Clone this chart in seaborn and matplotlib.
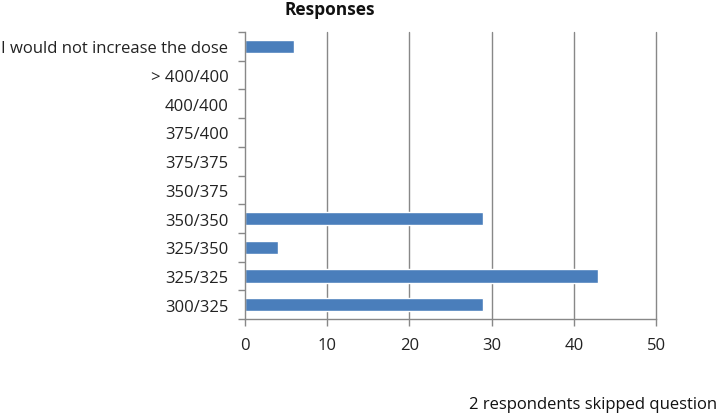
import matplotlib
matplotlib.use("Agg")
import matplotlib.pyplot as plt
import seaborn as sns
import pandas as pd

categories = ["I would not increase the dose", "> 400/400", "400/400", "375/400",
              "375/375", "350/375", "350/350", "325/350", "325/325", "300/325"]
values = [6, 0, 0, 0, 0, 0, 29, 4, 43, 29]
xticks = [0, 10, 20, 30, 40, 50]

sns.set_style("white")
plt.rcParams['font.family'] = ['Open Sans', 'DejaVu Sans']

df = pd.DataFrame({"category": categories, "value": values})

fig = plt.figure(figsize=(7.19, 4.14), dpi=100)
ax = fig.add_axes([245/719, 1 - 320/414, (656-245)/719, (320-33)/414])

sns.barplot(data=df, y="category", x="value", order=categories, color="#4a7ebb",
            saturation=1, width=0.47, ax=ax, orient="h")

ax.set_xlim(0, 50)
ax.set_ylim(len(categories) - 0.5, -0.5)
ax.set_xticks(xticks)
ax.set_xticklabels([str(t) for t in xticks], fontsize=12, color="#222222")
ax.set_xlabel("")
ax.set_ylabel("")
ax.tick_params(axis="y", which="major", left=False, labelsize=12, labelcolor="#222222", length=0, pad=12)
ax.tick_params(axis="x", bottom=True, length=5, color="#888888", width=1, direction="out", pad=8)
# minor ticks between categories on y axis
ax.set_yticks([i + 0.5 for i in range(-1, len(categories))], minor=True)
ax.tick_params(axis="y", which="minor", left=True, length=5, color="#888888", width=1, direction="out")

for x in xticks[1:]:
    ax.axvline(x, color="#888888", lw=1, zorder=0, clip_on=False)
for s in ["top", "right"]:
    ax.spines[s].set_visible(False)
for s in ["left", "bottom"]:
    ax.spines[s].set_color("#888888")
    ax.spines[s].set_linewidth(1)

fig.text(330/719, 1 - 10/414, "Responses", ha="center", va="center",
         fontsize=12.5, fontweight="bold", color="#111111")
fig.text(717/719, 1 - 405/414, "2 respondents skipped question", ha="right", va="center",
         fontsize=12, color="#111111")

fig.savefig("out.png", dpi=100)
